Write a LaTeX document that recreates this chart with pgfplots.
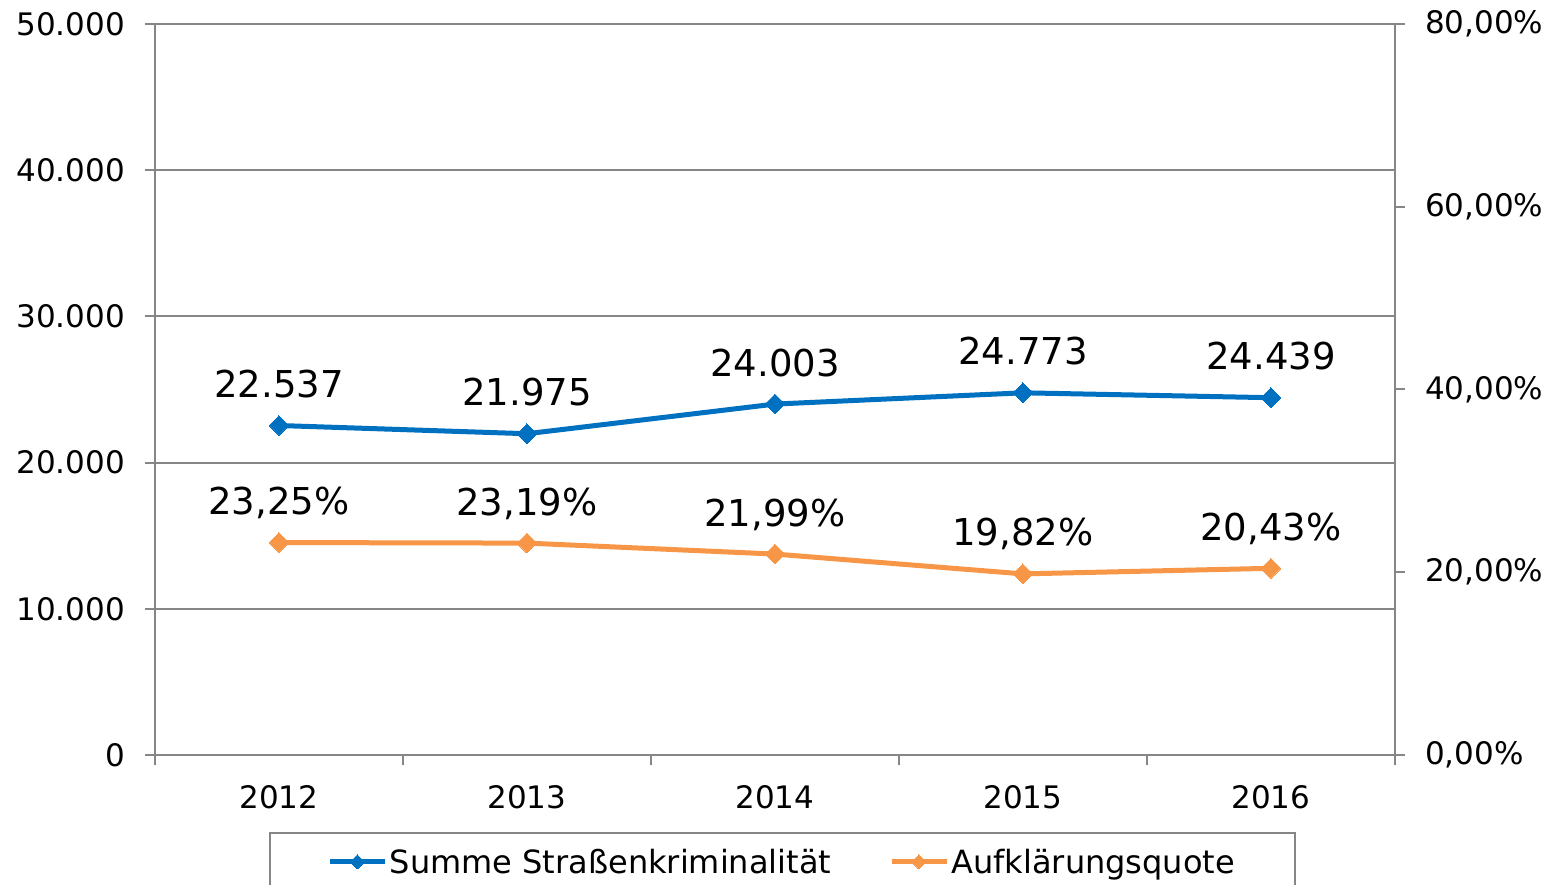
\documentclass[border=0pt]{standalone}
\usepackage{pgfplots}
\usepackage{pgfplotstable}
\pgfplotsset{compat=1.18}
\usepackage{fontspec}
\setmainfont{DejaVu Sans}
\definecolor{cblue}{RGB}{0,112,192}
\definecolor{corange}{RGB}{247,150,70}
\definecolor{cgrid}{RGB}{134,134,134}
\pgfplotstableread{
x y lab
0 22537 22.537
1 21975 21.975
2 24003 24.003
3 24773 24.773
4 24439 24.439
}\tblsum
\pgfplotstableread{
x y lab
0 23.25 {23,25\%}
1 23.19 {23,19\%}
2 21.99 {21,99\%}
3 19.82 {19,82\%}
4 20.43 {20,43\%}
}\tblquote
\begin{document}
\begin{tikzpicture}
\pgfplotsset{
  every axis/.append style={
    scale only axis, width=1240pt, height=731pt,
    at={(0pt,0pt)}, anchor=south west,
    xmin=-0.5, xmax=4.5,
    scaled y ticks=false, scaled x ticks=false,
    /pgf/number format/assume math mode=true,
    tick label style={font=\fontsize{31}{37}\selectfont, text=black},
    axis line style={draw=cgrid, line width=2pt},
    tick style={draw=cgrid, line width=2pt},
    tick align=outside,
    major tick length=10pt, minor tick length=10pt,
    clip=false,
  },
  mystyle/.style={line width=5pt, mark=square*, mark size=7pt, mark options={rotate=45, line width=0pt, solid}},
  every node near coord/.append style={font=\fontsize{37}{44}\selectfont, text=black, anchor=base, inner sep=0pt, yshift=28pt},
}
\begin{axis}[
  ymin=0, ymax=50000,
  axis y line*=left, axis x line*=bottom,
  ytick={0,10000,20000,30000,40000,50000},
  yticklabels={0,10.000,20.000,30.000,40.000,50.000},
  ymajorgrids, major grid style={draw=cgrid, line width=2pt},
  xtick={0,1,2,3,4},
  xticklabels={2012,2013,2014,2015,2016},
  minor xtick={-0.5,0.5,1.5,2.5,3.5,4.5},
  major x tick style={draw=none},
  yticklabel style={anchor=east, inner sep=0pt, xshift=-20pt},
  xticklabel style={anchor=north, inner sep=0pt, yshift=-20pt},
]
\addplot[mystyle, color=cblue, nodes near coords, point meta=explicit symbolic] table[x=x, y=y, meta=lab] {\tblsum};
\end{axis}
\begin{axis}[
  ymin=0, ymax=80,
  axis y line*=right, axis x line=none,
  ytick={0,20,40,60,80},
  yticklabels={{0,00\%},{20,00\%},{40,00\%},{60,00\%},{80,00\%}},
  yticklabel style={anchor=west, inner sep=0pt, xshift=20pt},
  legend columns=2,
  legend style={at={(0.506,-0.1053)}, anchor=north, draw=cgrid, line width=2pt,
    font=\fontsize{32}{38}\selectfont, inner xsep=58pt, inner ysep=14pt,
    /tikz/every even column/.append style={column sep=56pt}},
  legend image code/.code={\draw[mark repeat=2,mark phase=2,#1, mark size=5pt] plot coordinates {(0pt,0pt) (27pt,0pt) (55pt,0pt)};},
]
\addlegendimage{mystyle, color=cblue}
\addlegendentry{Summe Straßenkriminalität}
\addplot[mystyle, color=corange, nodes near coords, point meta=explicit symbolic] table[x=x, y=y, meta=lab] {\tblquote};
\addlegendentry{Aufklärungsquote}
\end{axis}
\pgfresetboundingbox
\path[use as bounding box] (-155pt,-130pt) rectangle (1405pt,755pt);
\end{tikzpicture}
\end{document}
